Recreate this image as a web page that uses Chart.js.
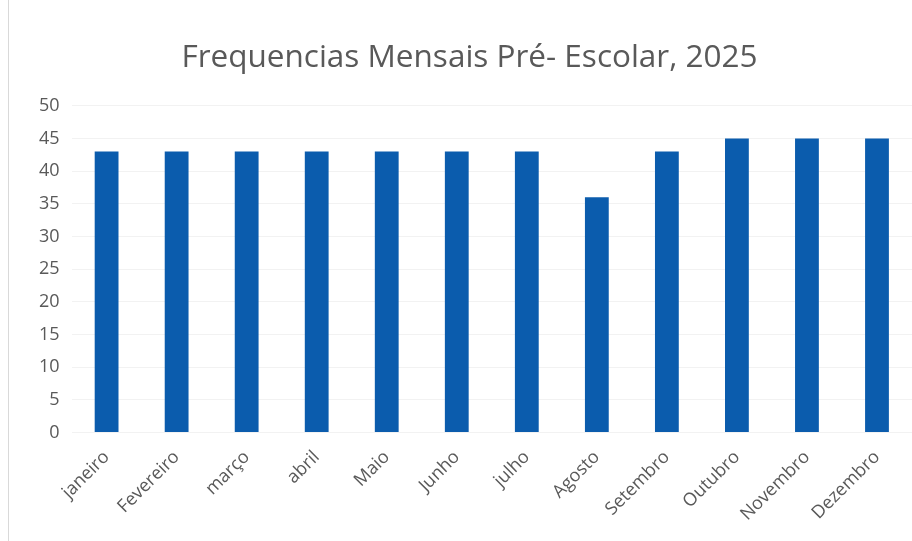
<!DOCTYPE html>
<html>
<head>
<meta charset="utf-8">
<script src="https://cdn.jsdelivr.net/npm/chart.js@4.4.1/dist/chart.umd.min.js"></script>
<style>
  html, body { margin: 0; padding: 0; background: #fff; }
  #wrap { position: relative; width: 912px; height: 541px; }
  #wrap::before { content: ''; position: absolute; left: 8px; top: 0; bottom: 0; border-left: 1px solid #d9d9d9; }
  canvas { display: block; }
</style>
</head>
<body>
<div id="wrap"><canvas id="chart" width="912" height="541"></canvas></div>
<script>
// Frequencias mensais, pre-escolar 2025
const MONTHS = ['janeiro', 'Fevereiro', 'março', 'abril', 'Maio', 'Junho', 'julho', 'Agosto', 'Setembro', 'Outubro', 'Novembro', 'Dezembro'];
const FREQ = [43, 43, 43, 43, 43, 43, 43, 36, 43, 45, 45, 45];
const Y_TICKS = [0, 5, 10, 15, 20, 25, 30, 35, 40, 45, 50];

const GREY = '#595959';
const FONT = '"Open Sans", "Noto Sans", sans-serif';

new Chart(document.getElementById('chart').getContext('2d'), {
  type: 'bar',
  data: {
    labels: MONTHS,
    datasets: [{
      data: FREQ,
      backgroundColor: '#0b5cad',
      borderWidth: 0,
      barPercentage: 0.68,
      categoryPercentage: 0.5
    }]
  },
  options: {
    responsive: false,
    animation: false,
    layout: { padding: { left: 27, right: 0, top: 39, bottom: 10 } },
    plugins: {
      legend: { display: false },
      tooltip: { enabled: false },
      title: {
        display: true,
        text: 'Frequencias Mensais Pré- Escolar, 2025',
        color: GREY,
        font: { family: FONT, size: 31.5, weight: 'normal' },
        padding: { top: 0, bottom: 29 }
      }
    },
    scales: {
      x: {
        grid: { display: false },
        border: { display: false },
        ticks: {
          color: GREY,
          font: { family: FONT, size: 18 },
          minRotation: 45,
          maxRotation: 45,
          padding: 6
        }
      },
      y: {
        min: 0,
        max: 50,
        afterBuildTicks: (axis) => { axis.ticks = Y_TICKS.map(v => ({ value: v })); },
        grid: { color: '#f2f2f2', drawTicks: false },
        border: { display: false },
        ticks: {
          color: GREY,
          font: { family: FONT, size: 18 },
          padding: 12
        }
      }
    }
  }
});
</script>
</body>
</html>
